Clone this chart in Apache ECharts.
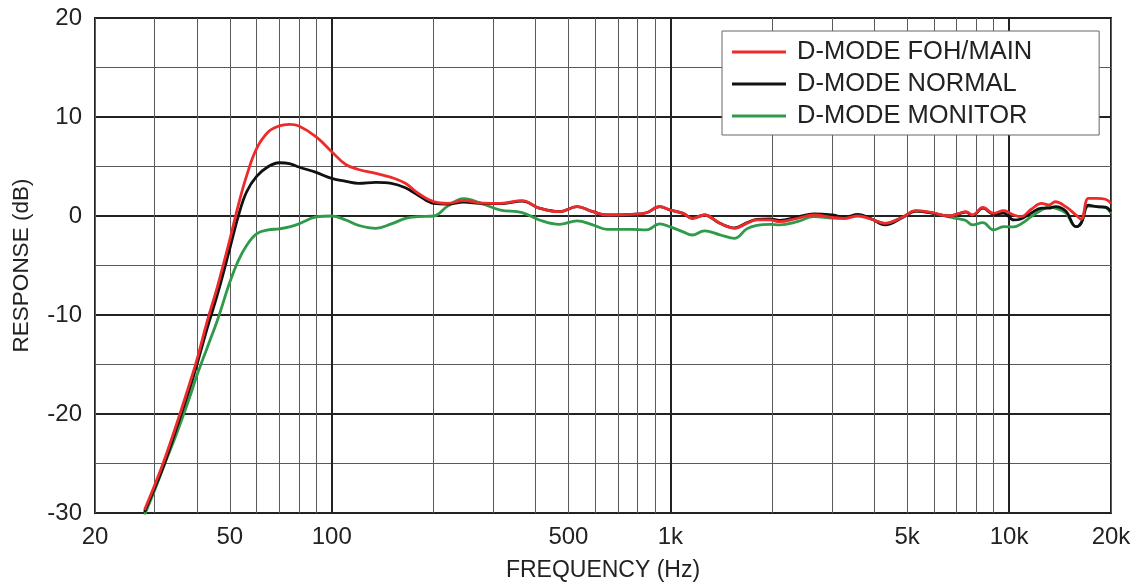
<!DOCTYPE html>
<html>
<head>
<meta charset="utf-8">
<script src="https://cdn.jsdelivr.net/npm/echarts@6/dist/echarts.min.js"></script>
<style>
html,body{margin:0;padding:0;background:#fff;}
#chart{width:1143px;height:588px;}
</style>
</head>
<body>
<div id="chart"></div>
<script>
// Frequencies (Hz)
var freqs = [28, 30, 32, 35, 38, 40, 43, 46, 50, 53, 56, 60, 65, 70, 75, 80, 90, 100, 110, 120, 135, 150, 165, 180, 200, 220, 245, 280, 315, 365, 410, 470, 530, 590, 650, 770, 850, 930, 1000, 1090, 1160, 1260, 1400, 1550, 1680, 1800, 1970, 2100, 2370, 2650, 3000, 3270, 3580, 3930, 4300, 4880, 5300, 5940, 6650, 7130, 7450, 7800, 8370, 9000, 9640, 10330, 10840, 11630, 12470, 13100, 13700, 14700, 15760, 16330, 17150, 18150, 19260, 20000];

var fohMain = [-29.7, -27.2, -24.7, -20.8, -17.0, -14.5, -10.5, -7.1, -2.4, 1.1, 4.0, 6.8, 8.5, 9.1, 9.26, 9.1, 8.0, 6.5, 5.2, 4.7, 4.3, 3.9, 3.3, 2.3, 1.45, 1.28, 1.55, 1.3, 1.28, 1.55, 0.8, 0.44, 0.94, 0.44, 0.1, 0.17, 0.33, 0.94, 0.6, 0.27, -0.23, 0.1, -0.74, -1.25, -0.74, -0.4, -0.4, -0.57, -0.23, 0.1, -0.13, -0.23, 0.0, -0.33, -0.74, -0.07, 0.54, 0.33, 0.0, 0.27, 0.44, 0.1, 0.88, 0.27, 0.54, 0.1, -0.07, 0.68, 1.28, 1.11, 1.44, 0.94, 0.1, -0.33, 1.79, 1.79, 1.69, 1.28];

var normal = [-29.9, -27.5, -25.1, -21.2, -17.5, -15.0, -11.2, -7.9, -3.3, 0.0, 2.4, 4.0, 5.0, 5.38, 5.3, 4.95, 4.4, 3.8, 3.5, 3.3, 3.4, 3.3, 2.85, 2.1, 1.28, 1.2, 1.4, 1.25, 1.25, 1.5, 0.8, 0.44, 0.94, 0.44, 0.1, 0.17, 0.33, 0.94, 0.6, 0.27, -0.23, 0.1, -0.74, -1.2, -0.7, -0.35, -0.3, -0.45, -0.1, 0.2, 0.1, -0.1, 0.15, -0.3, -0.9, -0.1, 0.5, 0.3, 0.0, 0.25, 0.4, 0.05, 0.8, 0.2, 0.3, -0.4, -0.3, 0.3, 0.8, 0.8, 0.95, 0.5, -1.08, -0.7, 1.1, 0.95, 0.9, 0.44];

var monitor = [-30.2, -27.7, -25.2, -21.8, -18.4, -16.1, -13.2, -10.5, -6.7, -4.5, -3.0, -1.8, -1.4, -1.3, -1.1, -0.8, -0.1, 0.0, -0.4, -0.95, -1.25, -0.8, -0.25, -0.07, 0.0, 1.0, 1.75, 1.2, 0.6, 0.35, -0.4, -0.85, -0.5, -0.9, -1.35, -1.35, -1.4, -0.8, -1.1, -1.6, -1.92, -1.5, -1.9, -2.25, -1.3, -0.95, -0.85, -0.9, -0.57, -0.07, -0.2, -0.23, 0.1, -0.33, -0.74, -0.07, 0.5, 0.3, -0.1, -0.3, -0.45, -0.9, -0.67, -1.41, -1.08, -1.1, -0.8, -0.07, 0.6, 0.9, 0.8, 0.3, -1.08, -0.7, 1.0, 0.94, 0.85, 0.27];

var seriesNames = ['D-MODE FOH/MAIN', 'D-MODE NORMAL', 'D-MODE MONITOR'];
var seriesColors = ['#ee2a2a', '#111111', '#2f9a4a'];

var xLabelValues = [20, 50, 100, 500, 1000, 5000, 10000, 20000];
var minorGridFreqs = [20, 30, 40, 50, 60, 70, 80, 90, 200, 300, 400, 500, 600, 700, 800, 900, 2000, 3000, 4000, 5000, 6000, 7000, 8000, 9000, 20000];
var majorGridFreqs = [100, 1000, 10000];

function pairs(ys) { return freqs.map(function (f, i) { return [f, ys[i]]; }); }

var chart = echarts.init(document.getElementById('chart'), null, {renderer: 'canvas'});
var FONT = 'Liberation Sans, Arial, sans-serif';

var option = {
  animation: false,
  backgroundColor: '#fff',
  grid: {left: 95, right: 32, top: 18, bottom: 75, show: true, borderColor: '#222', borderWidth: 2, backgroundColor: 'transparent'},
  legend: {
    left: 722, top: 31, orient: 'vertical',
    icon: 'rect', itemWidth: 54, itemHeight: 3, itemGap: 4,
    padding: [7, 67, 5, 10],
    borderColor: '#666', borderWidth: 1, backgroundColor: '#fff',
    textStyle: {fontFamily: FONT, fontSize: 25.5, color: '#222', lineHeight: 28, padding: [0, 0, 0, 6]},
    data: seriesNames
  },
  xAxis: [{
    type: 'log', logBase: 10, min: 20, max: 20000,
    name: 'FREQUENCY (Hz)', nameLocation: 'middle', nameGap: 46,
    nameTextStyle: {fontFamily: FONT, fontSize: 23, color: '#222'},
    axisLine: {show: false},
    axisTick: {show: false, customValues: minorGridFreqs},
    splitLine: {show: true, customValues: minorGridFreqs, lineStyle: {color: '#5a5a5a', width: 1}},
    minorSplitLine: {show: false},
    axisLabel: {
      customValues: xLabelValues, margin: 12,
      fontFamily: FONT, fontSize: 24, color: '#222',
      formatter: function (v) { v = Math.round(v); return v >= 1000 ? (v / 1000) + 'k' : String(v); }
    }
  }, {
    type: 'log', logBase: 10, min: 20, max: 20000, position: 'bottom',
    axisLine: {show: false},
    axisTick: {show: false, customValues: majorGridFreqs},
    splitLine: {show: true, customValues: majorGridFreqs, lineStyle: {color: '#222', width: 2}},
    axisLabel: {show: false}
  }],
  yAxis: {
    type: 'value', min: -30, max: 20, interval: 10,
    name: 'RESPONSE (dB)', nameLocation: 'middle', nameGap: 62,
    nameTextStyle: {fontFamily: FONT, fontSize: 22.5, color: '#222'},
    axisLine: {show: false}, axisTick: {show: false},
    axisLabel: {margin: 13, fontFamily: FONT, fontSize: 24, color: '#222'},
    splitLine: {show: true, lineStyle: {color: '#222', width: 2}},
    minorTick: {show: false, splitNumber: 2},
    minorSplitLine: {show: true, lineStyle: {color: '#5a5a5a', width: 1}}
  },
  series: [
    {name: seriesNames[2], data: pairs(monitor), color: seriesColors[2], z: 3},
    {name: seriesNames[1], data: pairs(normal), color: seriesColors[1], z: 4},
    {name: seriesNames[0], data: pairs(fohMain), color: seriesColors[0], z: 5}
  ].map(function (s) {
    return Object.assign({type: 'line', xAxisIndex: 0, showSymbol: false, symbol: 'none', smooth: 0.4, clip: true,
      lineStyle: {width: 2.8, color: s.color}, itemStyle: {color: s.color}}, s);
  })
};
chart.setOption(option);
</script>
</body>
</html>
